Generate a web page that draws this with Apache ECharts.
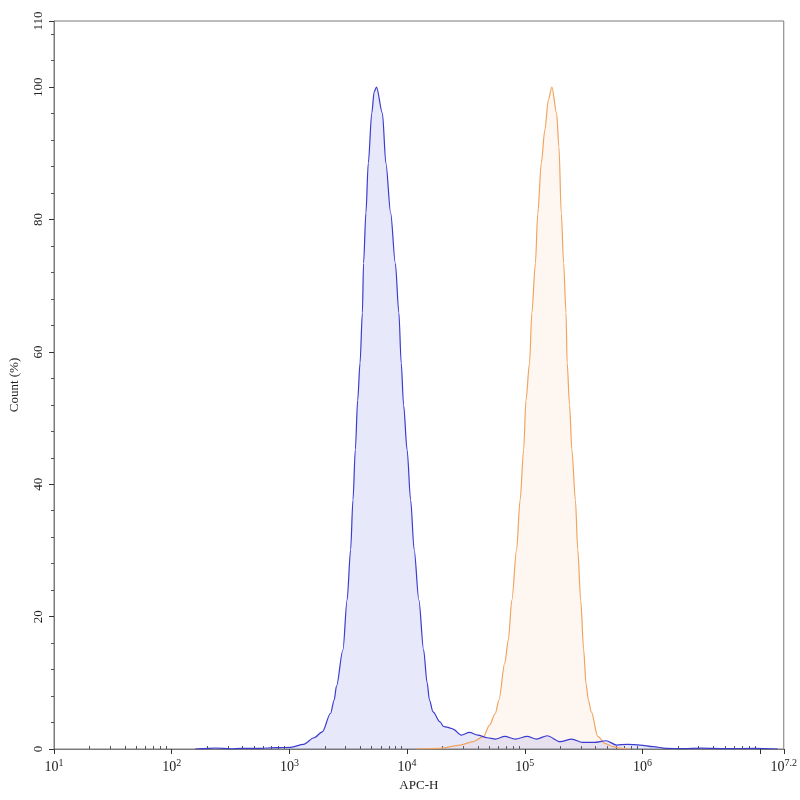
<!DOCTYPE html>
<html>
<head>
<meta charset="utf-8">
<title>APC-H</title>
<script src="https://cdn.jsdelivr.net/npm/echarts@6/dist/echarts.min.js"></script>
<style>
html,body{margin:0;padding:0;background:#fff;}
#main{width:800px;height:800px;}
</style>
</head>
<body>
<div id="main"></div>
<script>
// x values are log10(APC-H), y values are Count (%)
var blueLogX = [2.2,2.25,2.37,2.5,2.59,2.75,2.88,3.01,3.12,3.21,3.28,3.35,3.38,3.40,3.455,3.49,3.52,3.54,3.56,3.58,3.60,3.62,3.63,3.65,3.67,3.70,3.72,3.74,3.79,3.82,3.86,3.90,3.93,3.95,3.97,4.00,4.03,4.06,4.10,4.14,4.17,4.19,4.22,4.28,4.31,4.34,4.38,4.39,4.46,4.53,4.60,4.68,4.75,4.83,4.92,5.02,5.10,5.19,5.30,5.40,5.49,5.59,5.69,5.78,5.87,5.98,6.09,6.20,6.35,6.5,6.7,6.95,7.15];
var blueCount = [0,0.05,0.15,0.02,0.1,0.1,0.2,0.26,0.7,1.7,2.6,5.4,7.4,9.5,15.0,22.5,30.1,37.6,45.2,52.7,58.3,65.9,73.4,81.0,88.5,96.1,99.3,100,96.1,88.5,81.0,73.4,65.9,58.3,52,45.2,37.6,30.1,22.5,15.0,10.0,7.4,5.6,4.1,3.4,3.3,3.1,3.0,2.1,2.5,2.1,1.7,1.5,1.9,1.5,1.9,1.5,2.0,1.1,1.5,1.0,1.0,1.25,0.6,0.7,0.6,0.35,0.1,0.05,0.12,0.05,0.1,0];

var orangeLogX = [4.07,4.28,4.45,4.56,4.65,4.70,4.75,4.78,4.83,4.86,4.89,4.93,4.96,4.99,5.01,5.04,5.06,5.09,5.11,5.14,5.17,5.20,5.23,5.27,5.29,5.31,5.33,5.35,5.36,5.38,5.40,5.43,5.45,5.475,5.50,5.52,5.54,5.565,5.62,5.68,5.75,5.82,5.89];
var orangeCount = [0,0.1,0.6,1.1,1.9,3.6,5.4,7.4,13.0,16.5,22.5,30.1,37.6,45.2,52.7,58.3,65.9,73.4,80.9,88.5,93.5,98.1,100,96.1,91.0,80.9,73.4,65.9,58.3,52,45.2,37.6,30.1,22.5,15.0,9.9,7.4,5.6,1.9,0.86,0.35,0.1,0];

// axis ticks
var xLabelExp = [1,2,3,4,5,6,7.2];
var xMajorTicks = [1,2,3,4,5,6,7,7.2];
var yMinorTicks = [4,8,12,16,24,28,32,36,44,48,52,56,64,68,72,76,84,88,92,96,104,108];

function pairs(xs, ys){
	var out = [];
	for(var i = 0; i < xs.length; i++){
		out.push([xs[i], ys[i]]);
	}
	return out;
}
// log minor ticks 2..9 of each decade
function logMinorTicks(){
	var out = [];
	for(var d = 1; d < 7; d++){
		for(var k = 2; k <= 9; k++){
			out.push(d + Math.log10(k));
		}
	}
	return out;
}

var font = 'Liberation Serif';
var myChart = echarts.init(document.getElementById('main'));
var option = {
	backgroundColor : '#fff',
	animation : false,
	grid : {
		left : 53,
		right : 15,
		top : 21,
		bottom : 51,
		show : true,
		borderColor : '#7a7a7a',
		borderWidth : 1
	},
	xAxis : [ {
		type : 'value',
		min : 1,
		max : 7.2,
		interval : 1,
		name : 'APC-H',
		nameLocation : 'middle',
		nameGap : 30,
		nameTextStyle : { fontFamily : font, fontSize : 13, color : '#222' },
		splitLine : { show : false },
		axisLine : { lineStyle : { color : '#7a7a7a' } },
		axisTick : { customValues : xMajorTicks, length : 5, lineStyle : { color : '#333' } },
		axisLabel : {
			customValues : xLabelExp,
			margin : 9,
			formatter : function(v){
				return '{b|10}{s|' + v + '}';
			},
			rich : {
				b : { fontFamily : font, fontSize : 14, color : '#222' },
				s : { fontFamily : font, fontSize : 10, color : '#222', padding : [0,0,8,0] }
			}
		}
	}, {
		// only for the small log ticks, pointing up
		type : 'value',
		min : 1,
		max : 7.2,
		position : 'bottom',
		axisLine : { show : false },
		splitLine : { show : false },
		axisLabel : { show : false },
		axisTick : { customValues : logMinorTicks(), inside : true, length : 3, lineStyle : { color : '#555' } }
	} ],
	yAxis : [ {
		type : 'value',
		min : 0,
		max : 110,
		interval : 20,
		name : 'Count (%)',
		nameLocation : 'middle',
		nameGap : 33,
		nameTextStyle : { fontFamily : font, fontSize : 13, color : '#222' },
		splitLine : { show : false },
		axisLine : { show : true, lineStyle : { color : '#7a7a7a' } },
		axisTick : { length : 5, lineStyle : { color : '#333' } },
		axisLabel : { rotate : 90, margin : 9, fontFamily : font, fontSize : 13, color : '#222' }
	}, {
		type : 'value',
		min : 0,
		max : 110,
		position : 'left',
		axisLine : { show : false },
		splitLine : { show : false },
		axisLabel : { show : false },
		axisTick : { customValues : yMinorTicks, length : 3, lineStyle : { color : '#555' } }
	} ],
	series : [ {
		name : 'orange',
		type : 'line',
		smooth : 0.3,
		smoothMonotone : 'x',
		symbol : 'none',
		data : pairs(orangeLogX, orangeCount),
		lineStyle : { color : '#f0a460', width : 1.2 },
		areaStyle : { color : 'rgba(245,170,100,0.13)' }
	}, {
		name : 'blue',
		type : 'line',
		smooth : 0.3,
		smoothMonotone : 'x',
		symbol : 'none',
		data : pairs(blueLogX, blueCount),
		lineStyle : { color : '#3b3bd0', width : 1.2 },
		areaStyle : { color : 'rgba(90,90,230,0.2)' }
	} ]
};
myChart.setOption(option);
</script>
</body>
</html>
